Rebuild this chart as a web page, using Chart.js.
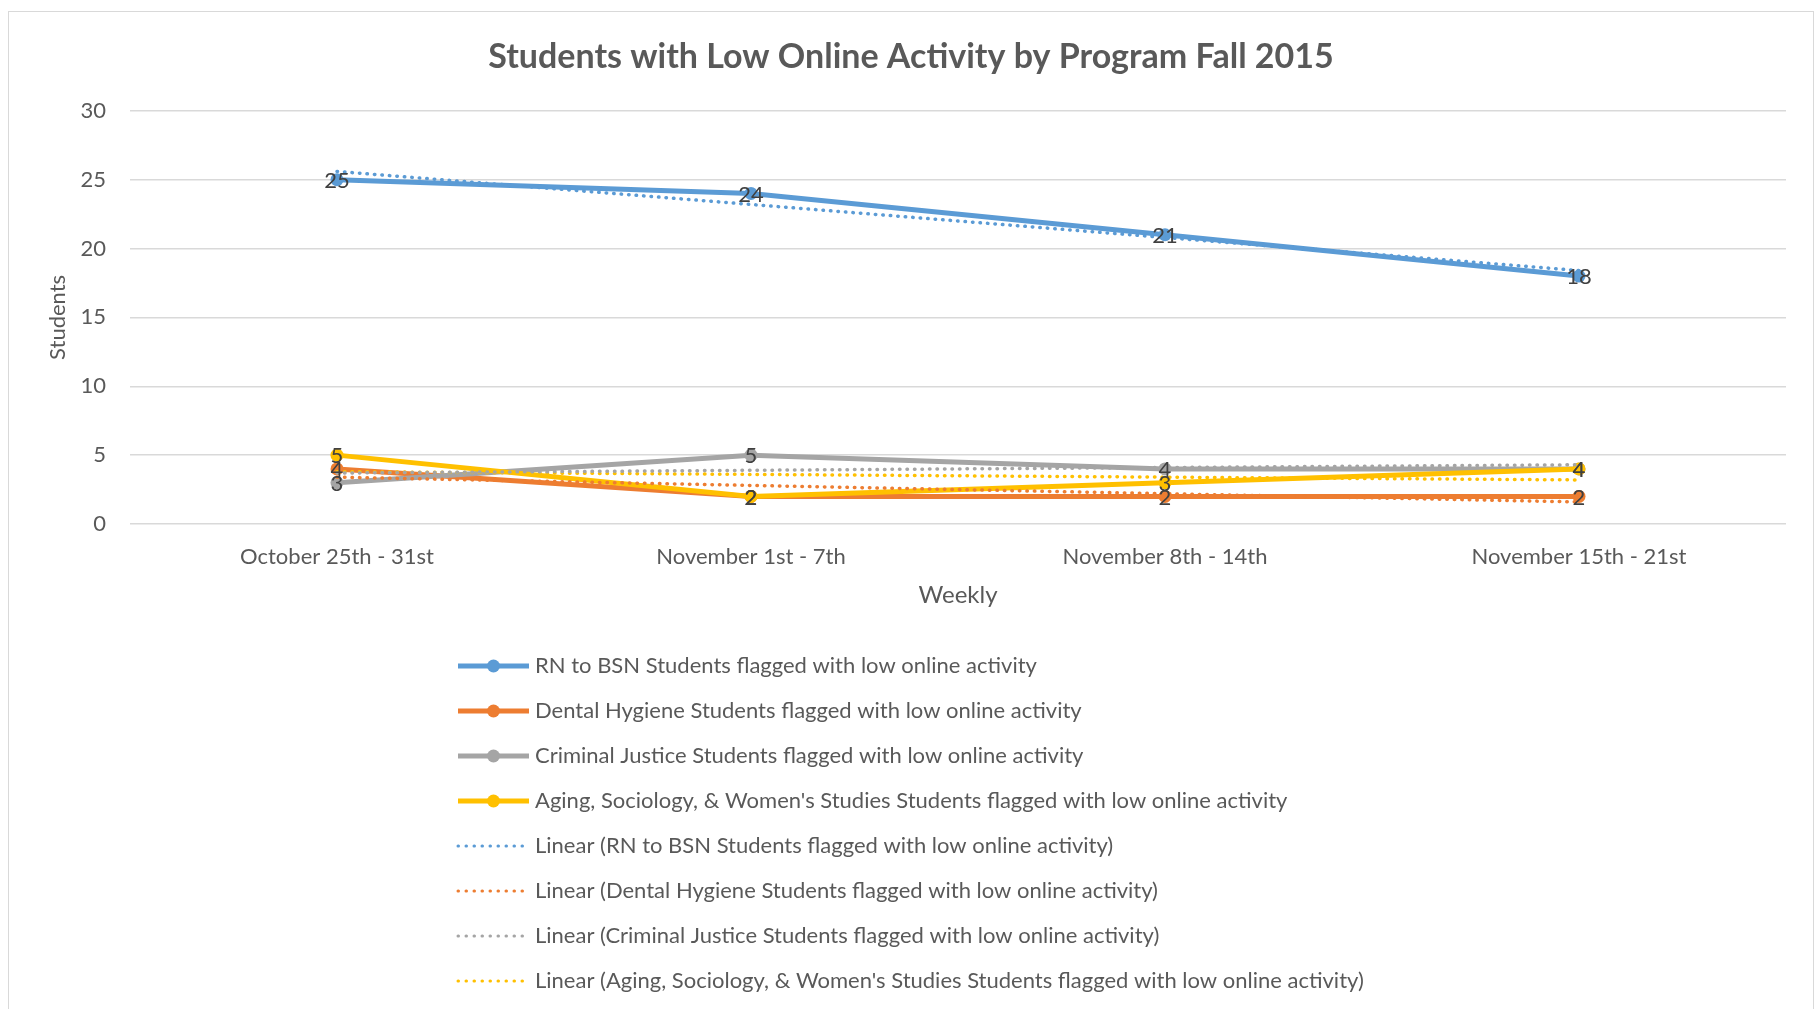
<!DOCTYPE html>
<html>
<head>
<meta charset="utf-8">
<script src="https://cdn.jsdelivr.net/npm/chart.js@4"></script>
<style>
    html, body { margin: 0; padding: 0; background: #fff; overflow: hidden; }
    #wrap { position: relative; width: 1815px; height: 1009px; }
    #moldura { position: absolute; left: 8px; top: 11px; width: 1806px; height: 1030px; border: 1px solid #d9d9d9; box-sizing: border-box; }
    canvas { position: absolute; left: 0; top: 0; }
</style>
</head>
<body>
<div id="wrap">
    <div id="moldura"></div>
    <canvas id="myChart" width="1815" height="1009"></canvas>
</div>
<script>
// Semanas (eixo X)
const semanas = ['October 25th - 31st', 'November 1st - 7th', 'November 8th - 14th', 'November 15th - 21st'];

// Alunos sinalizados por programa
const rnBsn = [25, 24, 21, 18];
const higieneDental = [4, 2, 2, 2];
const justicaCriminal = [3, 5, 4, 4];
const envelhecimento = [5, 2, 3, 4];

// Linhas de tendência (valor na primeira e na última semana)
const tendenciaInicio = [25.6, 3.4, 3.7, 3.8];
const tendenciaFim = [18.4, 1.6, 4.3, 3.2];

// Eixo Y
const yMin = 0;
const yMax = 30;
const yPasso = 5;

const nomes = [
    'RN to BSN Students flagged with low online activity',
    'Dental Hygiene Students flagged with low online activity',
    'Criminal Justice Students flagged with low online activity',
    "Aging, Sociology, & Women's Studies Students flagged with low online activity"
];
const series = [rnBsn, higieneDental, justicaCriminal, envelhecimento];
const cores = ['#5B9BD5', '#ED7D31', '#A5A5A5', '#FFC000'];

const fonte = 'Lato';
const corTexto = '#595959';

const datasets = [];
series.forEach((valores, i) => {
    datasets.push({
        label: nomes[i],
        data: valores,
        borderColor: cores[i],
        backgroundColor: cores[i],
        borderWidth: 5,
        pointRadius: 6.5,
        pointHoverRadius: 6.5,
        pointBorderWidth: 0,
        pointBackgroundColor: cores[i],
        tension: 0,
        order: 4 - i
    });
});
series.forEach((valores, i) => {
    datasets.push({
        label: 'Linear (' + nomes[i] + ')',
        tendencia: true,
        data: [
            { x: semanas[0], y: tendenciaInicio[i] },
            { x: semanas[semanas.length - 1], y: tendenciaFim[i] }
        ],
        borderColor: cores[i],
        borderWidth: 3.5,
        borderDash: [0.5, 7],
        borderCapStyle: 'round',
        pointRadius: 0,
        order: 0
    });
});

// Números em cima dos pontos
const rotulos = {
    id: 'rotulos',
    afterDatasetsDraw(chart) {
        const ctx = chart.ctx;
        ctx.save();
        ctx.font = '22px ' + fonte;
        ctx.fillStyle = '#404040';
        ctx.textAlign = 'center';
        ctx.textBaseline = 'middle';
        chart.data.datasets.forEach((ds, i) => {
            if (ds.tendencia) return;
            chart.getDatasetMeta(i).data.forEach((pt, j) => {
                ctx.fillText(String(ds.data[j]), pt.x, pt.y + 1);
            });
        });
        ctx.restore();
    }
};

// Legenda em coluna, como no Excel
const legendaColuna = {
    id: 'legendaColuna',
    afterDraw(chart) {
        const ctx = chart.ctx;
        const x0 = 458, x1 = 529, xTexto = 535;
        let y = 666;
        ctx.save();
        chart.data.datasets.forEach((ds) => {
            ctx.strokeStyle = ds.borderColor;
            ctx.beginPath();
            if (ds.tendencia) {
                ctx.lineWidth = 3;
                ctx.lineCap = 'round';
                ctx.setLineDash([0.5, 7.5]);
            } else {
                ctx.lineWidth = 5;
                ctx.lineCap = 'butt';
                ctx.setLineDash([]);
            }
            ctx.moveTo(x0, y);
            ctx.lineTo(x1, y);
            ctx.stroke();
            ctx.setLineDash([]);
            if (!ds.tendencia) {
                ctx.fillStyle = ds.borderColor;
                ctx.beginPath();
                ctx.arc((x0 + x1) / 2, y, 6.5, 0, Math.PI * 2);
                ctx.fill();
            }
            ctx.fillStyle = corTexto;
            ctx.font = '22px ' + fonte;
            ctx.textAlign = 'left';
            ctx.textBaseline = 'middle';
            ctx.fillText(ds.label, xTexto, y);
            y += 45;
        });
        ctx.restore();
    }
};

const ctx = document.getElementById('myChart').getContext('2d');
const myChart = new Chart(ctx, {
    type: 'line',
    data: {
        labels: semanas,
        datasets: datasets
    },
    options: {
        responsive: false,
        animation: false,
        devicePixelRatio: 1,
        layout: {
            padding: { top: 20, right: 29, bottom: 385, left: 36 }
        },
        plugins: {
            legend: { display: false },
            tooltip: { enabled: false },
            title: {
                display: true,
                text: 'Students with Low Online Activity by Program Fall 2015',
                color: corTexto,
                font: { family: fonte, size: 34, weight: 'bold' },
                padding: { top: 17, bottom: 33 }
            }
        },
        scales: {
            x: {
                offset: true,
                grid: { display: false },
                border: { display: false },
                ticks: {
                    color: corTexto,
                    font: { family: fonte, size: 22 },
                    padding: 12,
                    maxRotation: 0
                },
                title: {
                    display: true,
                    text: 'Weekly',
                    color: corTexto,
                    font: { family: fonte, size: 24 },
                    padding: { top: 4, bottom: 14 }
                },
                afterFit: (escala) => { escala.height = 100; }
            },
            y: {
                min: yMin,
                max: yMax,
                grid: { color: '#d9d9d9', lineWidth: 1.5, drawTicks: false },
                border: { display: false },
                ticks: {
                    stepSize: yPasso,
                    color: corTexto,
                    font: { family: fonte, size: 22 },
                    padding: 24
                },
                title: {
                    display: true,
                    text: 'Students',
                    color: corTexto,
                    font: { family: fonte, size: 22 },
                    padding: { top: 9, bottom: 0 }
                },
                afterFit: (escala) => { escala.width = 94; }
            }
        }
    },
    plugins: [rotulos, legendaColuna]
});
</script>
</body>
</html>
